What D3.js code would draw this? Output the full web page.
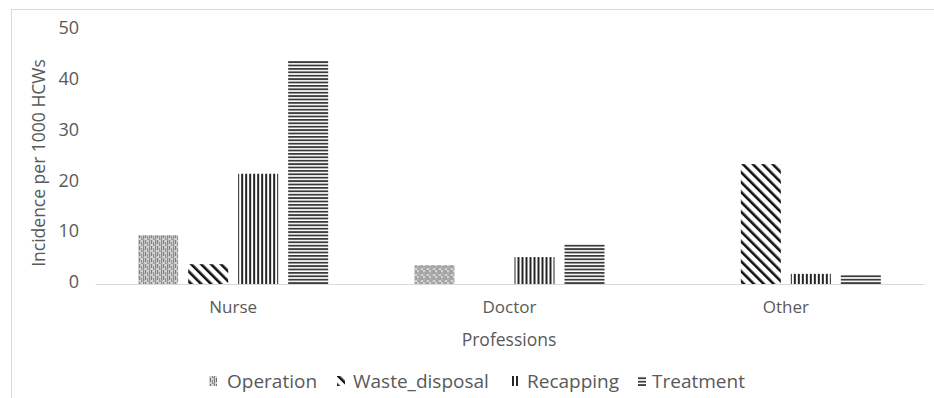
<!DOCTYPE html>
<html>
<head>
<meta charset="utf-8">
<script src="https://cdn.jsdelivr.net/npm/d3@7"></script>
<style>
  html, body { margin: 0; padding: 0; background: #fff; }
  svg { display: block; }
  text { font-family: "Open Sans", "Liberation Sans", sans-serif; fill: #595959; }
</style>
</head>
<body>
<div id="chart"></div>
<script>
// Needle-stick incidence by profession and activity
const categories = ["Nurse", "Doctor", "Other"];
const seriesNames = ["Operation", "Waste_disposal", "Recapping", "Treatment"];
const operation = [9.6, 3.7, 0];
const wasteDisposal = [3.9, 0, 23.6];
const recapping = [21.7, 5.3, 2.0];
const treatment = [43.9, 7.9, 1.8];
const yTicks = [0, 10, 20, 30, 40, 50];

const seriesValues = [operation, wasteDisposal, recapping, treatment];

const W = 934, H = 398;
const plot = { left: 95, right: 924, top: 30, bottom: 284 };

const svg = d3.select("#chart").append("svg")
  .attr("width", W).attr("height", H);

// hatch fills for each series
const defs = svg.append("defs");
const patternIds = ["pOperation", "pWaste", "pRecap", "pTreat"];

// Operation: fine broken vertical strokes in grey
const p0 = defs.append("pattern").attr("id", patternIds[0])
  .attr("patternUnits", "userSpaceOnUse").attr("width", 6).attr("height", 6);
p0.append("rect").attr("width", 6).attr("height", 6).attr("fill", "#d4d4d4");
p0.append("rect").attr("x", 0).attr("y", 0).attr("width", 1).attr("height", 4).attr("fill", "#6e6e6e");
p0.append("rect").attr("x", 2).attr("y", 2).attr("width", 1).attr("height", 4).attr("fill", "#8a8a8a");
p0.append("rect").attr("x", 4).attr("y", 0).attr("width", 1).attr("height", 5).attr("fill", "#7a7a7a");
p0.append("rect").attr("x", 3).attr("y", 5).attr("width", 2).attr("height", 1).attr("fill", "#a8a8a8");

// Waste_disposal: wide downward diagonal
const p1 = defs.append("pattern").attr("id", patternIds[1])
  .attr("patternUnits", "userSpaceOnUse").attr("width", 7).attr("height", 7)
  .attr("patternTransform", "rotate(-45)");
p1.append("rect").attr("width", 7).attr("height", 7).attr("fill", "#fff");
p1.append("rect").attr("x", 0).attr("y", 0).attr("width", 2.6).attr("height", 7).attr("fill", "#111");

// Recapping: dark vertical
const p2 = defs.append("pattern").attr("id", patternIds[2])
  .attr("patternUnits", "userSpaceOnUse").attr("width", 4).attr("height", 4);
p2.append("rect").attr("width", 4).attr("height", 4).attr("fill", "#fff");
p2.append("rect").attr("x", 0).attr("y", 0).attr("width", 2).attr("height", 4).attr("fill", "#262626");

// Treatment: dark horizontal
const p3 = defs.append("pattern").attr("id", patternIds[3])
  .attr("patternUnits", "userSpaceOnUse").attr("width", 4).attr("height", 3.4);
p3.append("rect").attr("width", 4).attr("height", 3.4).attr("fill", "#fff");
p3.append("rect").attr("x", 0).attr("y", 0).attr("width", 4).attr("height", 1.8).attr("fill", "#3a3a3a");

// outer frame
svg.append("line").attr("x1", 11).attr("x2", W).attr("y1", 9.5).attr("y2", 9.5)
  .attr("stroke", "#d9d9d9").attr("stroke-width", 1);
svg.append("line").attr("x1", 11.5).attr("x2", 11.5).attr("y1", 9).attr("y2", H)
  .attr("stroke", "#d9d9d9").attr("stroke-width", 1);

const x0 = d3.scaleBand().domain(categories).range([plot.left, plot.right]).padding(0);
const groupWidth = 200;
const x1 = d3.scaleBand().domain(seriesNames).range([0, groupWidth]).paddingInner(0.2).paddingOuter(0.1);
const y = d3.scaleLinear().domain([0, 50]).range([plot.bottom, plot.top]);

// y tick labels
const yAxis = d3.axisLeft(y).tickValues(yTicks).tickSize(0).tickPadding(0).tickFormat(d3.format("d"));
const gy = svg.append("g").attr("transform", `translate(${plot.left - 16},0)`).call(yAxis);
gy.select(".domain").remove();
gy.selectAll("text").attr("font-size", 18).attr("fill", "#595959")
  .attr("font-family", "Open Sans").attr("dy", "0.2em");

// bars
const groups = svg.append("g").selectAll("g").data(categories).join("g")
  .attr("transform", d => `translate(${x0(d) + x0.bandwidth() / 2 - groupWidth / 2},0)`);
groups.selectAll("rect")
  .data((c, ci) => seriesNames.map((s, si) => ({ s, si, v: seriesValues[si][ci] })))
  .join("rect")
  .filter(d => d.v > 0)
  .attr("x", d => x1(d.s))
  .attr("width", x1.bandwidth())
  .attr("y", d => y(d.v))
  .attr("height", d => y(0) - y(d.v))
  .attr("fill", d => `url(#${patternIds[d.si]})`);

// x axis baseline and category labels
const xAxis = d3.axisBottom(x0).tickSize(0).tickPadding(17);
const gx = svg.append("g").attr("transform", `translate(0,${plot.bottom})`).call(xAxis);
gx.select(".domain").attr("stroke", "#d9d9d9").attr("stroke-width", 1.2);
gx.selectAll("text").attr("font-size", 17).attr("fill", "#595959").attr("font-family", "Open Sans");

// axis titles
svg.append("text").attr("x", 509).attr("y", 346).attr("text-anchor", "middle")
  .attr("font-size", 17.5).text("Professions");
svg.append("text").attr("transform", "translate(45,163) rotate(-90)")
  .attr("text-anchor", "middle").attr("font-size", 17.5).text("Incidence per 1000 HCWs");

// legend
const legendSymX = [209, 337, 512, 638];
const legendTextX = [227, 353, 527, 652];
const leg = svg.append("g").selectAll("g").data(seriesNames).join("g");
leg.append("rect")
  .attr("x", (d, i) => legendSymX[i]).attr("y", 376)
  .attr("width", 8).attr("height", 10)
  .attr("fill", (d, i) => `url(#${patternIds[i]})`);
leg.append("text")
  .attr("x", (d, i) => legendTextX[i]).attr("y", 388)
  .attr("font-size", 19).text(d => d);
</script>
</body>
</html>
